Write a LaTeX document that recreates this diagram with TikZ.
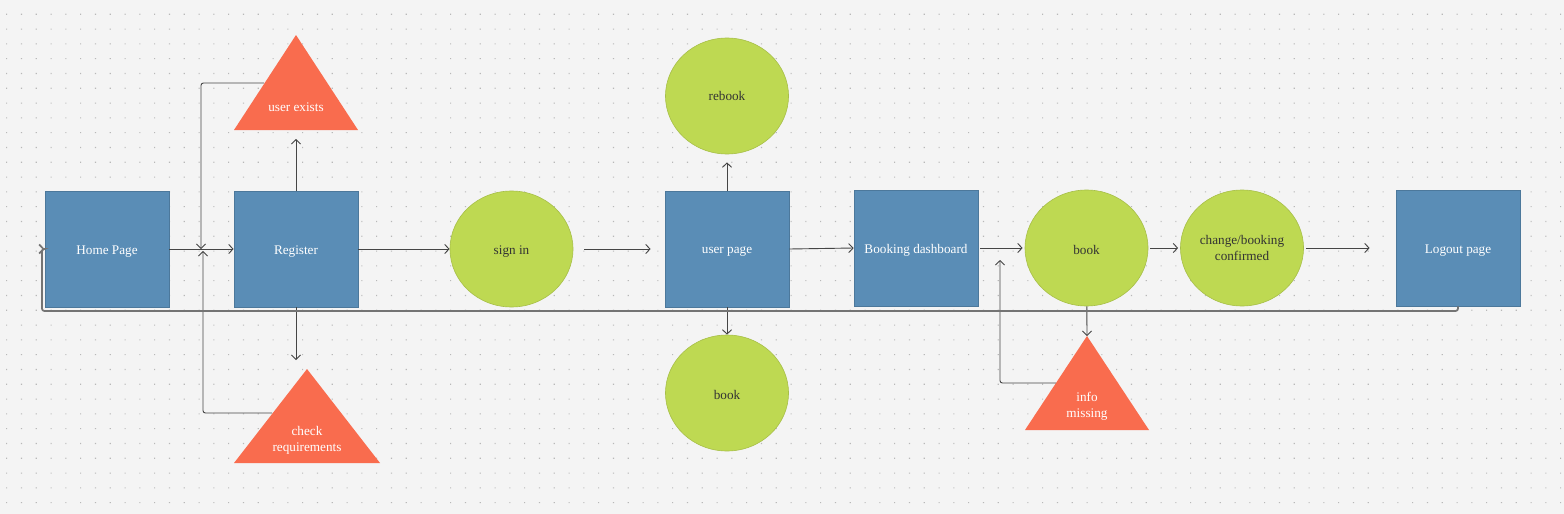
\documentclass[tikz,border=0pt]{standalone}
\usepackage{fontspec}
\setmainfont{Liberation Serif}
\usetikzlibrary{shapes.geometric,arrows.meta}
\definecolor{pageblue}{HTML}{5A8DB6}
\definecolor{limegreen}{HTML}{BED952}
\definecolor{alertred}{HTML}{F96C4E}
\definecolor{wirecol}{HTML}{454545}
\definecolor{paper}{HTML}{F4F4F4}
\definecolor{griddot}{HTML}{B8B8B8}
\newcommand{\nudge}[1]{\raisebox{-1.2pt}[\height][\depth]{#1}}

\begin{document}
\begin{tikzpicture}[x=0.5pt,y=-0.5pt,font=\fontsize{6.6}{8}\selectfont]
\tikzstyle{page} = [rectangle, fill=pageblue, draw=pageblue!85!black, line width=0.3pt, minimum width=62pt, minimum height=58pt, inner sep=0pt, text=white]
\tikzstyle{action} = [ellipse, fill=limegreen, draw=limegreen!88!black, line width=0.3pt, minimum width=61.5pt, minimum height=58pt, inner sep=0pt, text=black!80, align=center]
\tikzstyle{alert} = [fill=alertred]
\tikzstyle{alerttext} = [text=white, align=center, inner sep=0pt]
\tikzstyle{wire} = [draw=wirecol, line width=0.45pt, -{Straight Barb[length=2.2pt,width=4.5pt]}]
\tikzstyle{loopback} = [wire, rounded corners=1.2pt]

% paper with dot grid
\fill[paper] (0,0) rectangle (1564,514);
\foreach \gx in {0,...,105}
  \fill[griddot] \foreach \gy in {0,...,33} {(6.1+14.8*\gx,13.7+14.8*\gy) rectangle ++(1.1,1.1)};

% pages and actions
\node[page] (home) at (107,249) {\nudge{Home Page}};
\node[page] (register) at (296,249) {\nudge{Register}};
\node[action] (signin) at (511.5,249) {\nudge{sign in}};
\node[page] (userpage) at (727,249) {\nudge{user page}};
\node[action] (rebook) at (727,96) {rebook};
\node[action] (bookbelow) at (727,393) {\nudge{book}};
\node[page] (dashboard) at (916,248) {\nudge{Booking dashboard}};
\node[action] (book) at (1086.5,248) {\nudge{book}};
\node[action] (confirmed) at (1242,248) {change/booking\\confirmed};
\node[page] (logout) at (1458,248) {\nudge{Logout page}};

% alerts
\fill[alert] (234,130) -- (296,35) -- (358,130) -- cycle;
\node[alerttext] (userexists) at (296,107) {user exists};
\coordinate (userexists-b) at (296,130);
\coordinate (userexists-l) at (264,83);
\fill[alert] (234,463) -- (307,369) -- (380,463) -- cycle;
\node[alerttext] (checkreq) at (307,440) {check\\requirements};
\coordinate (checkreq-t) at (296,369);
\coordinate (checkreq-l) at (272,413);
\fill[alert] (1025,430) -- (1087,336) -- (1149,430) -- cycle;
\node[alerttext] (infomissing) at (1087,406) {info\\missing};
\coordinate (infomissing-t) at (1087,336);
\coordinate (infomissing-l) at (1056,383);

% loose ends
\coordinate (regjoin) at (201,249);
\coordinate (regjoin2) at (203,251);
\coordinate (bookjoin) at (1000,260);
\coordinate (returncorner) at (42,311);

% flow
\draw[wire] (home) -- (register);
\draw[wire, shorten >=4.5pt] (register) -- (userexists-b);
\draw[wire, shorten >=4.5pt] (register) -- (checkreq-t);
\draw[wire] (register) -- (signin);
\draw[wire, shorten <=5.5pt, shorten >=7pt] (signin) -- (userpage);
\draw[wire, shorten >=4pt] (userpage) -- (rebook);
\draw[wire] (userpage) -- (bookbelow);
\draw[wire] (userpage.east) -- (dashboard.west);
\draw[wire, shorten <=1pt, shorten >=1pt] (dashboard) -- (book);
\draw[wire, shorten <=1pt, shorten >=1pt] (book) -- (confirmed);
\draw[wire, shorten <=1pt, shorten >=13pt] (confirmed) -- (logout);
\draw[wire] (book) -- (infomissing-t);
\draw[loopback] (userexists-l) -| (regjoin);
\draw[loopback] (checkreq-l) -| (regjoin2);
\draw[loopback] (infomissing-l) -| (bookjoin);
\draw[loopback, draw=wirecol!75, line width=0.85pt] (logout.south) |- (returncorner) |- (home.west);
\end{tikzpicture}
\end{document}
